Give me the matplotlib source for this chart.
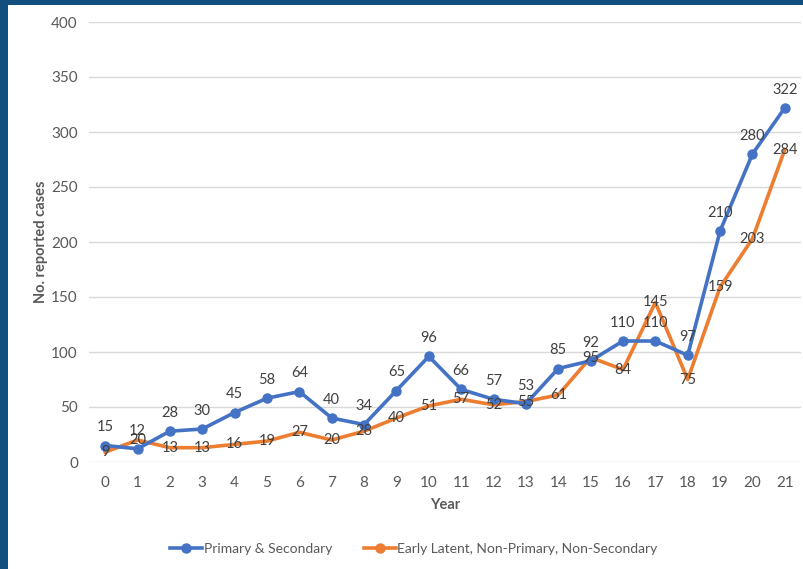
import matplotlib.pyplot as plt
from matplotlib.patches import Rectangle
from matplotlib.lines import Line2D

plt.rcParams["font.family"] = ["Lato", "DejaVu Sans"]

years = list(range(22))
primary_secondary = [15, 12, 28, 30, 45, 58, 64, 40, 34, 65, 96, 66, 57, 53, 85, 92, 110, 110, 97, 210, 280, 322]
early_latent = [9, 20, 13, 13, 16, 19, 27, 20, 28, 40, 51, 57, 52, 55, 61, 95, 84, 145, 75, 159, 203, 284]
series_names = ["Primary & Secondary", "Early Latent, Non-Primary, Non-Secondary"]

BLUE = "#4472C4"
ORANGE = "#ED7D31"
GRAY = "#595959"
FRAME = "#124E7E"

fig = plt.figure(figsize=(8.04, 5.69), dpi=100)
fig.patch.set_facecolor("white")

# dark slide frame along the top and left edges
fig.patches.append(Rectangle((0, 1 - 5 / 569), 1, 5 / 569, transform=fig.transFigure,
                             facecolor=FRAME, edgecolor="none", zorder=0))
fig.patches.append(Rectangle((0, 0), 8 / 804, 1, transform=fig.transFigure,
                             facecolor=FRAME, edgecolor="none", zorder=0))

ax = fig.add_axes([89 / 804, (569 - 462) / 569, 712 / 804, 440 / 569])
ax.set_xlim(-0.5, 21.5)
ax.set_ylim(0, 400)
ax.set_yticks(range(0, 401, 50))
ax.set_xticks(years)
for s in ax.spines.values():
    s.set_visible(False)
ax.grid(axis="y", color="#D9D9D9", linewidth=1)
ax.set_axisbelow(True)
ax.tick_params(length=0, labelsize=11, labelcolor=GRAY)
ax.tick_params(axis="y", pad=8)
ax.tick_params(axis="x", pad=10)

ax.plot(years, primary_secondary, color=BLUE, linewidth=2.6, marker="o", markersize=6.5, zorder=3)
ax.plot(years, early_latent, color=ORANGE, linewidth=2.6, zorder=2)

for x, v in zip(years, primary_secondary):
    ax.annotate(str(v), (x, v), xytext=(0, 8), textcoords="offset points",
                ha="center", va="bottom", fontsize=10.5, color="#404040", zorder=5)
for x, v in zip(years, early_latent):
    ax.annotate(str(v), (x, v), xytext=(0, 0), textcoords="offset points",
                ha="center", va="center", fontsize=10.5, color="#404040", zorder=5)

ax.set_xlabel("Year", fontsize=10.5, fontweight="bold", color=GRAY, labelpad=6)
ax.set_ylabel("No. reported cases", fontsize=10.5, fontweight="bold", color=GRAY, labelpad=2)

handles = [Line2D([], [], color=BLUE, linewidth=2.6, marker="o", markersize=6.5),
           Line2D([], [], color=ORANGE, linewidth=2.6, marker="o", markersize=6.5)]
fig.legend(handles, series_names, loc="center", bbox_to_anchor=(0.515, 1 - 549 / 569),
           ncol=2, frameon=False, fontsize=10, labelcolor=GRAY, handlelength=2.3,
           handletextpad=0.1, columnspacing=2.3)

fig.savefig("out.png", dpi=100)
